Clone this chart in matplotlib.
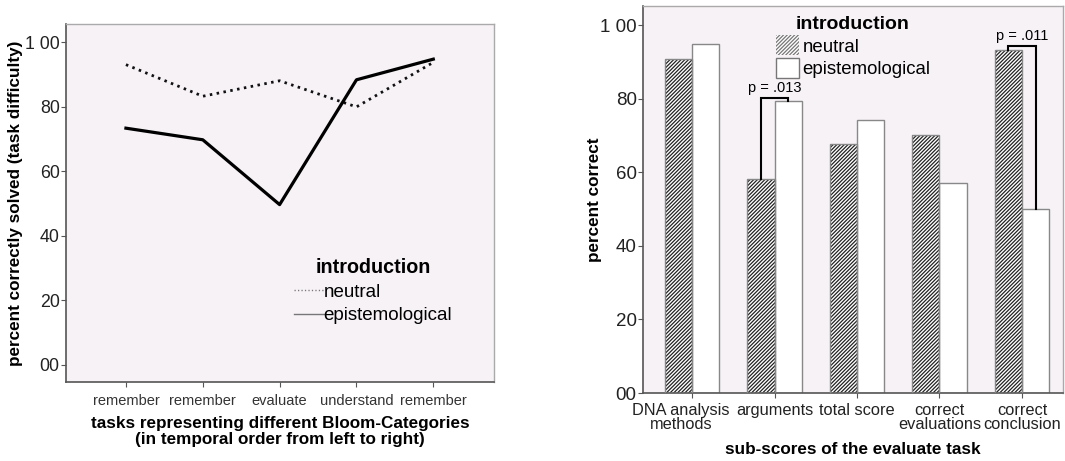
import matplotlib

matplotlib.use("Agg")
import matplotlib.pyplot as plt
import matplotlib.transforms as mtransforms
import numpy as np

plt.rcParams.update(
    {
        "font.family": ["Liberation Sans", "DejaVu Sans"],
        "hatch.linewidth": 0.9,
    }
)

# ---- data ----
tasks = ["remember", "remember", "evaluate", "understand", "remember"]
line_neutral = [93.0, 83.2, 88.0, 79.9, 93.7]
line_epist = [73.3, 69.7, 49.6, 88.3, 94.7]

subscores = [
    "DNA analysis\nmethods",
    "arguments",
    "total score",
    "correct\nevaluations",
    "correct\nconclusion",
]
bar_neutral = [90.9, 58.1, 67.6, 70.0, 93.2]
bar_epist = [95.0, 79.4, 74.3, 57.2, 50.0]

ytick_vals = [0, 20, 40, 60, 80, 100]
ytick_labels = ["00", "20", "40", "60", "80", "1 00"]

BG = "#f6f2f6"
W, H = 1065, 461

fig = plt.figure(figsize=(W / 100, H / 100), dpi=100)


def px_axes(x0, y0, x1, y1):
    return fig.add_axes([x0 / W, 1 - y1 / H, (x1 - x0) / W, (y1 - y0) / H])


def style(ax):
    ax.set_facecolor(BG)
    for s in ("left", "bottom"):
        ax.spines[s].set_color("#555555")
        ax.spines[s].set_linewidth(1.2)
    for s in ("top", "right"):
        ax.spines[s].set_color("#aaaaaa")
        ax.spines[s].set_linewidth(1.0)
    ax.tick_params(direction="out", length=3.5, color="#555555", labelcolor="#222222")


# ---- left: line chart ----
ax = px_axes(66, 24, 494, 382)
style(ax)
x = np.arange(len(tasks))
ax.plot(x, line_neutral, color="#111111", lw=2.0, ls=(0, (0.9, 1.6)), label="neutral")
ax.plot(x, line_epist, color="#000000", lw=2.3, label="epistemological")
ax.set_xlim(-0.78, 4.79)
ax.set_ylim(-5.4, 105.6)
ax.set_xticks(x)
ax.set_xticklabels(tasks, fontsize=10.5, color="#333333")
ax.set_yticks(ytick_vals)
ax.set_yticklabels(ytick_labels, fontsize=12.8)
ax.tick_params(axis="x", pad=5)
ax.tick_params(axis="y", pad=1)
ax.set_xlabel(
    "tasks representing different Bloom-Categories\n(in temporal order from left to right)",
    fontsize=12.3,
    fontweight="bold",
    labelpad=6,
    linespacing=1.05,
)
ax.set_ylabel("percent correctly solved (task difficulty)", fontsize=12.3, fontweight="bold")
ax.yaxis.set_label_coords(-0.1, 0.5)
leg = ax.legend(
    title="introduction",
    frameon=False,
    fontsize=13.5,
    loc="upper center",
    bbox_to_anchor=(0.717, 0.345),
    borderpad=0,
    borderaxespad=0,
    handlelength=1.6,
    handletextpad=0.0,
    labelspacing=0.33,
)
leg.get_title().set_fontweight("bold")
leg.get_title().set_fontsize(14.2)
for h in leg.get_lines():
    h.set_linewidth(1.0)
    h.set_color("#777777")

# ---- right: bar chart ----
bx = px_axes(643, 6, 1063, 393)
style(bx)
xb = np.arange(len(subscores))
bw = 0.33
bx.bar(
    xb - bw / 2, bar_neutral, bw, color="white", edgecolor="#222222", hatch="/////////",
    lw=0, label="neutral", zorder=2,
)
bx.bar(xb - bw / 2, bar_neutral, bw, fill=False, edgecolor="#888888", lw=1.0, zorder=3)
bx.bar(
    xb + bw / 2, bar_epist, bw, color="white", edgecolor="#888888", lw=1.0,
    label="epistemological", zorder=2,
)
bx.set_xlim(-0.594, 4.497)
bx.set_ylim(0, 105.2)
bx.set_xticks(xb)
bx.set_xticklabels(subscores, fontsize=11.8, linespacing=0.95)
# first label sits a little left of its tick, as in the original
shift = mtransforms.ScaledTranslation(-11 / 100, 0, fig.dpi_scale_trans)
first = bx.get_xticklabels()[0]
first.set_transform(first.get_transform() + shift)
bx.set_yticks(ytick_vals)
bx.set_yticklabels(ytick_labels, fontsize=13.5)
bx.tick_params(axis="y", pad=1)
bx.set_xlabel("sub-scores of the evaluate task", fontsize=12.3, fontweight="bold", labelpad=7)
bx.set_ylabel("percent correct", fontsize=12.3, fontweight="bold")
bx.yaxis.set_label_coords(-0.098, 0.5)

# significance brackets
pairs = [(1, 80.2, "p = .013", 82.9), (4, 94.3, "p = .011", 97.0)]
for i, top, txt, ty in pairs:
    xa, xe = i - bw / 2, i + bw / 2
    bx.plot(
        [xa, xa, xe, xe], [bar_neutral[i], top, top, bar_epist[i]],
        color="black", lw=1.5, zorder=4, solid_joinstyle="miter",
    )
    bx.text(i, ty, txt, ha="center", va="center", fontsize=10.5)

leg2 = bx.legend(
    title="introduction",
    frameon=False,
    fontsize=13.4,
    loc="upper center",
    bbox_to_anchor=(0.5, 0.975),
    borderpad=0,
    borderaxespad=0.0,
    handlelength=1.25,
    handleheight=1.25,
    handletextpad=0.2,
    labelspacing=0.15,
)
leg2.get_title().set_fontweight("bold")
leg2.get_title().set_fontsize(14)
for p in leg2.get_patches():
    p.set_edgecolor("#777777")

fig.savefig("out.png", dpi=100)
